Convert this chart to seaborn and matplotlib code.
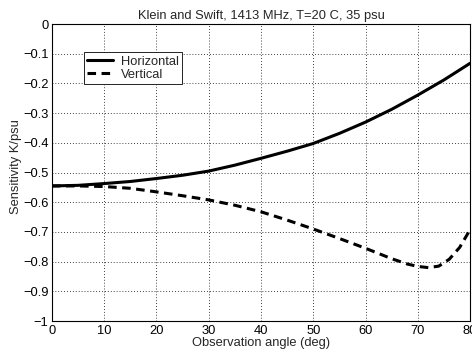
import matplotlib
matplotlib.use("Agg")
import matplotlib.pyplot as plt
import seaborn as sns
import pandas as pd

# Data
angle_h = [0, 5, 10, 15, 20, 25, 30, 35, 40, 45, 50, 55, 60, 65, 70, 75, 80]
sens_h = [-0.545, -0.543, -0.537, -0.530, -0.520, -0.509, -0.495, -0.475, -0.452,
          -0.428, -0.402, -0.368, -0.330, -0.287, -0.239, -0.188, -0.132]
angle_v = [0, 5, 10, 15, 20, 25, 30, 35, 40, 45, 50, 55, 60, 65, 68, 70, 72, 74, 76, 78, 80]
sens_v = [-0.545, -0.545, -0.547, -0.553, -0.565, -0.578, -0.592, -0.610, -0.632,
          -0.660, -0.690, -0.722, -0.755, -0.790, -0.808, -0.816, -0.820, -0.815,
          -0.792, -0.752, -0.692]
series_names = ["Horizontal", "Vertical"]
title = "Klein and Swift, 1413 MHz, T=20 C, 35 psu"
xticks = [0, 10, 20, 30, 40, 50, 60, 70, 80]
yticks = [0, -0.1, -0.2, -0.3, -0.4, -0.5, -0.6, -0.7, -0.8, -0.9, -1]
ytick_labels = ["0", "\u22120.1", "\u22120.2", "\u22120.3", "\u22120.4", "\u22120.5",
                "\u22120.6", "\u22120.7", "\u22120.8", "\u22120.9", "\u22121"]

sns.set_style("white")
plt.rcParams['font.family'] = ['Liberation Sans', 'DejaVu Sans']

df_h = pd.DataFrame({"angle": angle_h, "sens": sens_h})
df_v = pd.DataFrame({"angle": angle_v, "sens": sens_v})

fs = 9.3
fig = plt.figure(figsize=(4.72, 3.54), dpi=100)
ax = fig.add_axes([0.110, 0.093, 0.886, 0.839])

sns.lineplot(data=df_h, x="angle", y="sens", ax=ax, color="black", lw=2.2,
             label=series_names[0])
sns.lineplot(data=df_v, x="angle", y="sens", ax=ax, color="black", lw=2.2,
             linestyle=(0, (2.8, 1.8)), label=series_names[1])

ax.set_xlim(0, 80)
ax.set_ylim(-1, 0)
ax.set_xticks(xticks)
ax.set_yticks(yticks)
ax.set_yticklabels(ytick_labels)
ax.tick_params(direction="in", length=3, labelsize=fs, colors="black", width=0.6, pad=2.5)
ax.grid(True, color="black", linestyle=(0, (1, 2.5)), linewidth=0.6)
for s in ax.spines.values():
    s.set_color("black")
    s.set_linewidth(0.8)

ax.set_title(title, fontsize=fs, pad=4)
ax.set_xlabel("Observation angle (deg)", fontsize=fs, labelpad=0)
ax.set_ylabel("Sensitivity K/psu", fontsize=fs, labelpad=1, y=0.52)

leg = ax.legend(loc="upper left", bbox_to_anchor=(0.077, 0.905), fontsize=fs,
                frameon=True, fancybox=False, edgecolor="black", framealpha=1,
                handlelength=2.0, borderpad=0.25, labelspacing=0.1,
                handletextpad=0.6, borderaxespad=0)
leg.get_frame().set_linewidth(0.6)

fig.savefig("out.png", dpi=100)
